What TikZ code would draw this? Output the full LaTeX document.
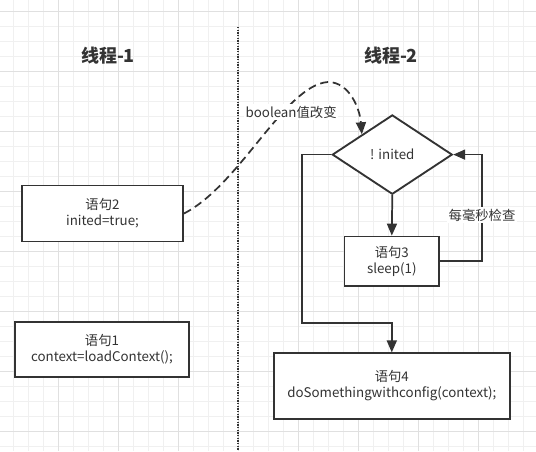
\documentclass[tikz,border=0pt]{standalone}
\usepackage{fontspec}
\setmainfont{Noto Sans CJK SC}
\usetikzlibrary{arrows.meta,shapes.geometric}
\definecolor{ink}{HTML}{333333}
\definecolor{gridminor}{HTML}{F0F0F0}
\definecolor{gridmajor}{HTML}{E0E0E0}
\tikzset{
  box/.style={draw=ink,line width=1.4pt,fill=white,align=center,inner sep=0pt,text=ink,font=\fontsize{10}{12}\selectfont},
  cond/.style={box,shape=diamond},
  flow/.style={draw=ink,line width=1.3pt,-{Triangle[length=9pt,width=7.5pt]}},
  lbl/.style={fill=white,inner sep=1pt,text=ink,font=\fontsize{10}{12}\selectfont},
  title/.style={text=ink,font=\fontsize{13.5}{16}\selectfont\bfseries}
}

\begin{document}
\begin{tikzpicture}[x=.75pt,y=-.75pt]
\useasboundingbox (0,0) rectangle (536,451);
% grid
\foreach \k in {0,...,35}{\draw[gridminor,line width=.75pt] (13.3+15*\k,0)--(13.3+15*\k,451);}
\foreach \k in {0,...,29}{\draw[gridminor,line width=.75pt] (0,11.7+15*\k)--(536,11.7+15*\k);}
\foreach \k in {0,...,8}{\draw[gridmajor,line width=.75pt] (-1.7+60*\k,0)--(-1.7+60*\k,451);}
\foreach \k in {0,...,7}{\draw[gridmajor,line width=.75pt] (0,11.7+60*\k)--(536,11.7+60*\k);}
% separator
\coordinate (sepTop) at (238,27);\coordinate (sepBot) at (238,451);
\draw[ink,line width=1.1pt,dash pattern=on 1pt off 1pt] (sepTop)--(sepBot);
\node[title] (t1) at (108,56){线程-1};\node[title] (t2) at (391,56){线程-2};
% thread 1
\node[box,minimum width=120.75pt,minimum height=42pt] (s2) at (102.5,213.5){语句2\\inited=true;};
\node[box,minimum width=131pt,minimum height=41.5pt] (s1) at (102,349.5){语句1\\context=loadContext();};
% thread 2
\node[cond,minimum width=90pt,minimum height=59.5pt] (chk) at (392.3,154.6){! inited};
\node[box,minimum width=71pt,minimum height=37pt] (s3) at (391.8,261.2){语句3\\sleep(1)};
\node[box,minimum width=177pt,minimum height=49pt] (s4) at (391.8,386){语句4\\doSomethingwithconfig(context);};
\draw[flow] (chk.south)--(s3.north);
\draw[flow] (s3.east)-|(482,154.6)--(chk.east);
\node[lbl] (every) at (482,215){每毫秒检查};
\draw[flow] (chk.west)-|(302,323)-|(s4.north);
% signal
\draw[flow,dash pattern=on 6pt off 3.5pt] (s2.east) .. controls (240,185) and (285,85) .. (328,82) .. controls (350,82) and (360,110) .. (chk.north west);
\node[lbl,anchor=west] (sig) at (244,112){boolean值改变};
\end{tikzpicture}
\end{document}
